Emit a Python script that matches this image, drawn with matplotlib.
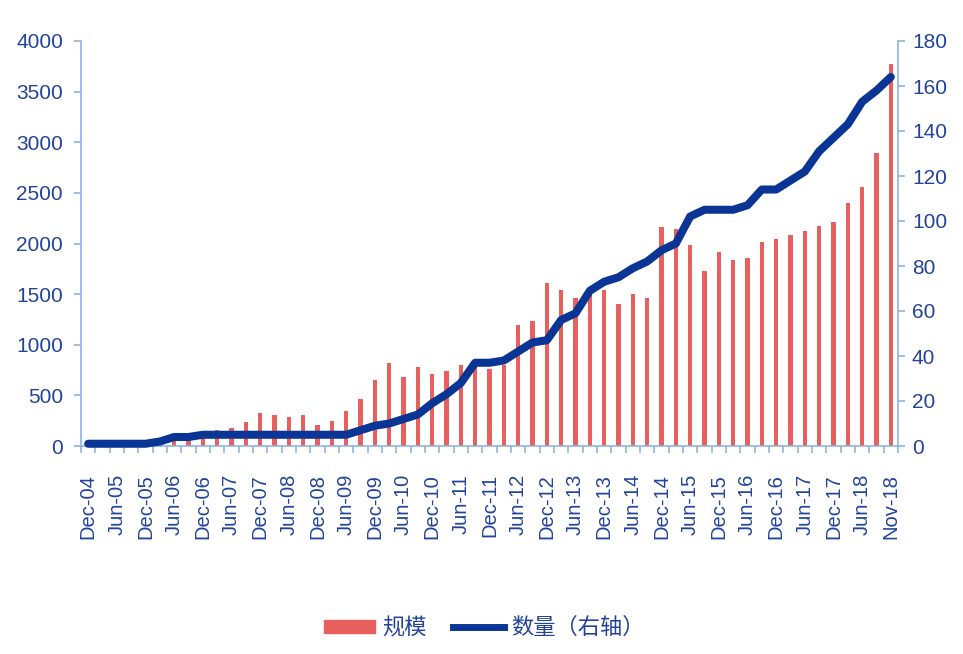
import numpy as np
import matplotlib
matplotlib.use("Agg")
import matplotlib.pyplot as plt
from matplotlib.patches import Patch
from matplotlib.lines import Line2D

plt.rcParams['font.family'] = ['Liberation Sans', 'Noto Sans CJK SC', 'DejaVu Sans']

# quarterly data, Dec-04 ... Sep-18, then Nov-18
scale = [5, 10, 60, 15, 60, 40, 85, 80, 128, 158,
         176, 234, 328, 307, 288, 307, 212, 250, 347, 460,
         649, 817, 685, 780, 708, 742, 800, 830, 761, 800,
         1195, 1234, 1614, 1538, 1459, 1570, 1536, 1405, 1499, 1459,
         2161, 2141, 1989, 1726, 1913, 1841, 1857, 2012, 2045, 2085,
         2121, 2177, 2216, 2404, 2556, 2898, 3771]
count = [1, 1, 1, 1, 1, 2, 4, 4, 5, 5,
         5, 5, 5, 5, 5, 5, 5, 5, 5, 7,
         9, 10, 12, 14, 19, 23, 28, 37, 37, 38,
         42, 46, 47, 56, 59, 69, 73, 75, 79, 82,
         87, 90, 102, 105, 105, 105, 107, 114, 114, 118,
         122, 131, 137, 143, 153, 158, 164]
tick_labels = ["Dec-04", "Jun-05", "Dec-05", "Jun-06", "Dec-06", "Jun-07", "Dec-07",
               "Jun-08", "Dec-08", "Jun-09", "Dec-09", "Jun-10", "Dec-10", "Jun-11",
               "Dec-11", "Jun-12", "Dec-12", "Jun-13", "Dec-13", "Jun-14", "Dec-14",
               "Jun-15", "Dec-15", "Jun-16", "Dec-16", "Jun-17", "Dec-17", "Jun-18",
               "Nov-18"]

bar_color = '#E8605E'
line_color = '#0A3594'
axis_color = '#8DB4E2'
text_color = '#23439B'

fig = plt.figure(figsize=(9.63, 6.54), dpi=100)
ax = fig.add_axes([81/963, 1-446/654, (898-81)/963, (446-41)/654])
x = np.arange(len(scale))

ax.bar(x, scale, width=0.3, color=bar_color, zorder=2)
ax.set_xlim(-0.5, len(scale) - 0.5)
ax.set_ylim(0, 4000)
ax.set_yticks(np.arange(0, 4001, 500))

ax2 = ax.twinx()
ax2.plot(x, count, color=line_color, lw=5.8, solid_capstyle='round',
         solid_joinstyle='round', clip_on=False)
ax2.set_ylim(0, 180)
ax2.set_yticks(np.arange(0, 181, 20))

for a in (ax, ax2):
    a.spines['top'].set_visible(False)
    for s in ('left', 'right', 'bottom'):
        a.spines[s].set_color(axis_color)
        a.spines[s].set_linewidth(1.2)
ax.spines['right'].set_visible(False)
ax2.spines['left'].set_visible(False)
ax2.spines['bottom'].set_visible(False)

ax.tick_params(axis='y', colors=axis_color, labelcolor=text_color, labelsize=15,
               length=5, width=1.2, pad=8)
ax2.tick_params(axis='y', colors=axis_color, labelcolor=text_color, labelsize=15,
                length=5, width=1.2, pad=5)

ax.set_xticks(x[::2])
ax.set_xticklabels(tick_labels, rotation=90, fontsize=14.5, color=text_color)
ax.set_xticks(np.arange(-0.5, len(scale)), minor=True)
ax.tick_params(axis='x', which='major', length=0, pad=20)
ax.tick_params(axis='x', which='minor', length=5, width=1.2, colors=axis_color)

handles = [Patch(color=bar_color), Line2D([], [], color=line_color, lw=5)]
leg = fig.legend(handles, ['规模', '数量（右轴）'], loc='center',
                 bbox_to_anchor=(0.503, 0.04), ncol=2, frameon=False,
                 prop={'family': ['Noto Sans CJK SC'], 'size': 16},
                 handlelength=2.3, handleheight=0.5, handletextpad=0.3,
                 columnspacing=1.2)
for t in leg.get_texts():
    t.set_color(text_color)

fig.savefig('out.png', dpi=100)
